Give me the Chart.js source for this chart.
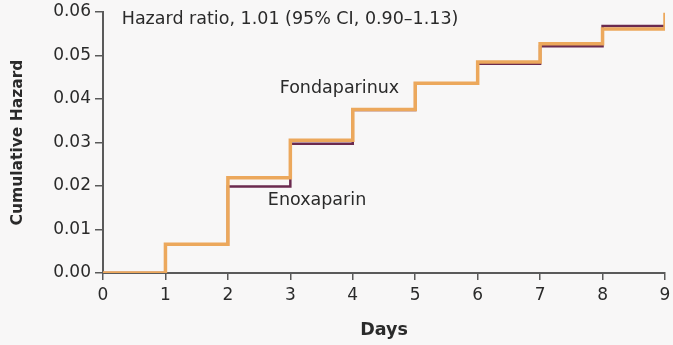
<!DOCTYPE html>
<html>
<head>
<meta charset="utf-8">
<script src="https://cdn.jsdelivr.net/npm/chart.js@4.4.1/dist/chart.umd.min.js"></script>
<style>
  html, body { margin: 0; padding: 0; background: #f8f7f7; }
  #wrap { width: 673px; height: 345px; position: relative; }
</style>
</head>
<body>
<div id="wrap"><canvas id="c" width="673" height="345"></canvas></div>
<script>
// Cumulative hazard by day; each value is the level reached at that day
const days = [0, 1, 2, 3, 4, 5, 6, 7, 8, 9];
const enoxaparin    = [0, 0.0066, 0.0199, 0.0297, 0.0375, 0.0436, 0.0481, 0.0521, 0.0568, 0.0568];
const fondaparinux  = [0, 0.0066, 0.0219, 0.0305, 0.0376, 0.0436, 0.0485, 0.0527, 0.0561, 0.0598];
const yTicks = [0, 0.01, 0.02, 0.03, 0.04, 0.05, 0.06];
const xTicks = [0, 1, 2, 3, 4, 5, 6, 7, 8, 9];

const FONT = "'DejaVu Sans', sans-serif";
const AXIS = '#5a5a5a';
const TEXT = '#2a2a2a';

function pts(vals) { return days.map((d, i) => ({ x: d, y: vals[i] })); }

// In-plot text labels (data coordinates of the left/middle anchor)
const notes = [
  { text: 'Hazard ratio, 1.01 (95% CI, 0.90\u20131.13)', x: 0.30, y: 0.0583 },
  { text: 'Fondaparinux', x: 2.83, y: 0.0425 },
  { text: 'Enoxaparin', x: 2.64, y: 0.0167 }
];

const notesPlugin = {
  id: 'notes',
  afterDatasetsDraw(chart) {
    const { ctx, scales } = chart;
    ctx.save();
    ctx.font = '17.5px ' + FONT;
    ctx.fillStyle = TEXT;
    ctx.textBaseline = 'middle';
    ctx.textAlign = 'left';
    notes.forEach(n => {
      ctx.fillText(n.text, scales.x.getPixelForValue(n.x), scales.y.getPixelForValue(n.y));
    });
    ctx.restore();
  }
};

new Chart(document.getElementById('c'), {
  type: 'line',
  data: {
    datasets: [
      {
        label: 'Enoxaparin',
        data: pts(enoxaparin),
        stepped: 'before',
        borderColor: '#6b2a4f',
        borderWidth: 2.5,
        pointRadius: 0,
        fill: false,
        order: 2
      },
      {
        label: 'Fondaparinux',
        data: pts(fondaparinux),
        stepped: 'before',
        borderColor: '#eca85c',
        borderWidth: 3.5,
        pointRadius: 0,
        fill: false,
        order: 1
      }
    ]
  },
  options: {
    responsive: false,
    animation: false,
    events: [],
    layout: { padding: { top: 12, right: 8, left: 0, bottom: 0 } },
    plugins: { legend: { display: false }, tooltip: { enabled: false } },
    scales: {
      x: {
        type: 'linear',
        min: 0, max: 9,
        afterBuildTicks(s) { s.ticks = xTicks.map(v => ({ value: v })); },
        afterFit(s) { s.height = 72; s.paddingLeft = 0; s.paddingRight = 0; },
        border: { display: true, color: AXIS, width: 2 },
        grid: { display: true, drawOnChartArea: false, drawTicks: true, tickLength: 7, color: AXIS, lineWidth: 1.5 },
        ticks: { color: TEXT, font: { family: FONT, size: 17 }, padding: 5, maxRotation: 0,
                 callback: v => String(v) },
        title: { display: true, text: 'Days', color: TEXT, font: { family: FONT, size: 17.5, weight: 'bold' },
                 padding: { top: 10 } }
      },
      y: {
        type: 'linear',
        min: 0, max: 0.06,
        afterBuildTicks(s) { s.ticks = yTicks.map(v => ({ value: v })); },
        afterFit(s) { s.width = 103; s.paddingTop = 0; s.paddingBottom = 0; },
        border: { display: true, color: AXIS, width: 2 },
        grid: { display: true, drawOnChartArea: false, drawTicks: true, tickLength: 8, color: AXIS, lineWidth: 1.5 },
        ticks: { color: TEXT, font: { family: FONT, size: 17 }, padding: 4,
                 callback: v => v.toFixed(2) },
        title: { display: true, text: 'Cumulative Hazard', color: TEXT, font: { family: FONT, size: 15.5, weight: 'bold' },
                 padding: { top: 9, bottom: 0 } }
      }
    }
  },
  plugins: [notesPlugin]
});
</script>
</body>
</html>
